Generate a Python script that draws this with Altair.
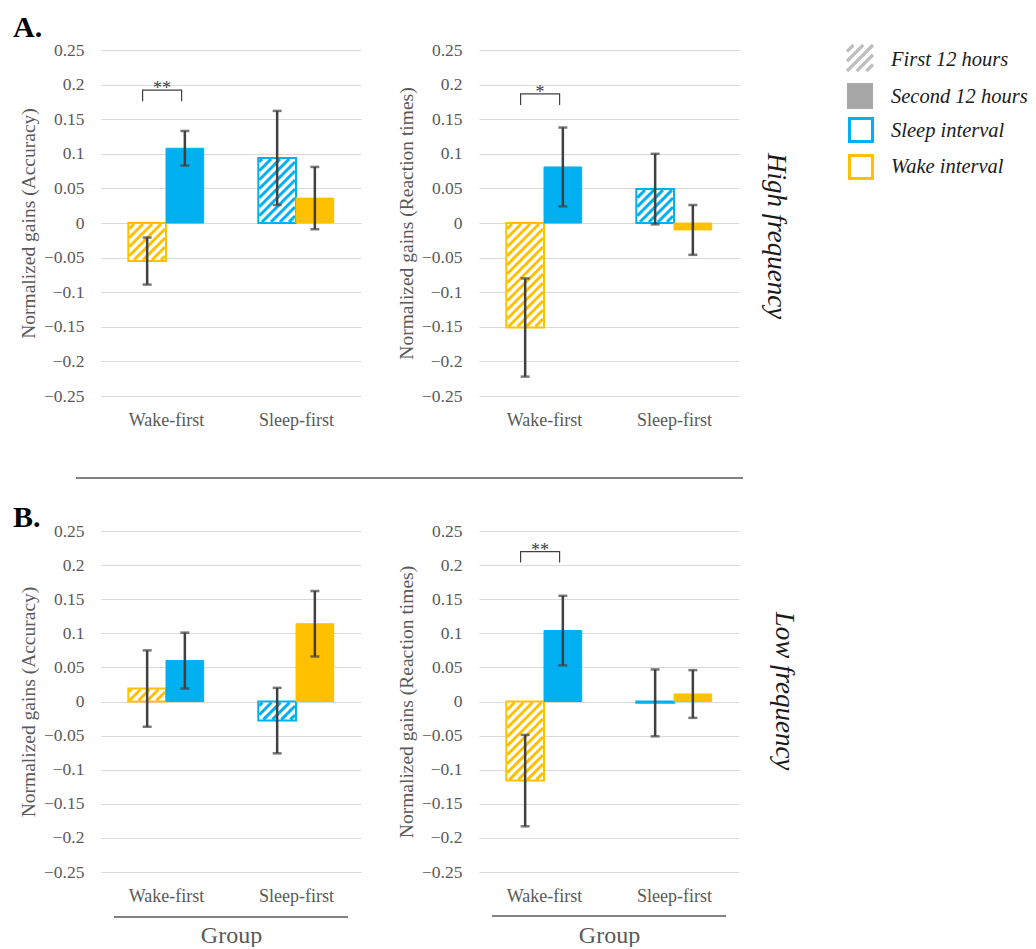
import math
import altair as alt
import numpy as np
import pandas as pd

# ---------------- data ----------------
groups = ["Wake-first", "Sleep-first"]
periods = ["First 12 hours", "Second 12 hours"]
first_interval = ["Wake", "Sleep"]    # interval type of the first 12 hours per group
second_interval = ["Sleep", "Wake"]   # interval type of the second 12 hours per group
intervals = ["Sleep", "Wake"]
interval_colors = ["#00B0F0", "#FFC000"]

# A. High frequency – Accuracy
hf_acc_first = [-0.055, 0.094]
hf_acc_first_err = [0.034, 0.068]
hf_acc_second = [0.108, 0.036]
hf_acc_second_err = [0.025, 0.045]
# A. High frequency – Reaction times
hf_rt_first = [-0.151, 0.049]
hf_rt_first_err = [0.071, 0.051]
hf_rt_second = [0.081, -0.010]
hf_rt_second_err = [0.057, 0.036]
# B. Low frequency – Accuracy
lf_acc_first = [0.019, -0.028]
lf_acc_first_err = [0.056, 0.048]
lf_acc_second = [0.060, 0.114]
lf_acc_second_err = [0.041, 0.048]
# B. Low frequency – Reaction times
lf_rt_first = [-0.116, -0.002]
lf_rt_first_err = [0.067, 0.049]
lf_rt_second = [0.104, 0.011]
lf_rt_second_err = [0.051, 0.035]

# significance markers: (group, label, bracket height)
hf_acc_sig = ("Wake-first", "**", 0.192)
hf_rt_sig = ("Wake-first", "*", 0.1865)
lf_rt_sig = ("Wake-first", "**", 0.2197)

y_ticks = [-0.25, -0.2, -0.15, -0.1, -0.05, 0, 0.05, 0.1, 0.15, 0.2, 0.25]
legend_labels = ["First 12 hours", "Second 12 hours", "Sleep interval", "Wake interval"]

# ---------------- layout / style ----------------
W = 260
H_TOP = 346
H_BOT = 341
XDOM = [-0.5, 1.5]
YDOM = [-0.25, 0.25]
BAR_W = 0.29
HATCH_STEP = 9.0
FONT = "Liberation Serif"
GRAY = "#595959"
ERR = "#404040"

XS = alt.Scale(domain=XDOM, nice=False, zero=False)
YS = alt.Scale(domain=YDOM, nice=False, zero=False)
COLOR_SCALE = alt.Scale(domain=intervals, range=interval_colors)

label_expr_y = "(datum.value < 0 ? '\u2212' : '') + format(abs(datum.value), '~g')"
label_expr_x = "[" + ",".join("'" + g + "'" for g in groups) + "][datum.value]"


def make_axes(H, ytitle, xtitle):
    yaxis = alt.Axis(values=y_ticks, labelExpr=label_expr_y, grid=True, gridColor="#D9D9D9",
                     gridWidth=1, domain=False, ticks=False, tickSize=0, labelPadding=17,
                     labelFont=FONT, labelFontSize=17.5, labelColor=GRAY,
                     title=ytitle, titleFont=FONT, titleFontSize=19.5, titleFontWeight="normal",
                     titleColor=GRAY, titleX=-73, titleY=H / 2, titleAngle=270,
                     titleAlign="center", titleBaseline="middle")
    xkw = dict(values=[0, 1], labelExpr=label_expr_x, grid=False, domain=False, ticks=False,
               tickSize=0, labelPadding=15, labelFont=FONT, labelFontSize=18, labelColor=GRAY)
    if xtitle:
        xaxis = alt.Axis(title=xtitle, titleFont=FONT, titleFontSize=24, titleFontWeight="normal",
                         titleColor=GRAY, titleX=W / 2, titleY=63, titleAlign="center",
                         titleBaseline="middle", **xkw)
    else:
        xaxis = alt.Axis(title=None, **xkw)
    return xaxis, yaxis


def panel_frame(first, first_err, second, second_err):
    rows = []
    for gi, g in enumerate(groups):
        rows.append(dict(group=g, gi=gi, period=periods[0], interval=first_interval[gi],
                         value=first[gi], err=first_err[gi]))
        rows.append(dict(group=g, gi=gi, period=periods[1], interval=second_interval[gi],
                         value=second[gi], err=second_err[gi]))
    df = pd.DataFrame(rows)
    df["x0"] = df["gi"] + np.where(df["period"] == periods[0], -BAR_W, 0.0)
    df["x1"] = df["x0"] + BAR_W
    df["xc"] = (df["x0"] + df["x1"]) / 2
    df["lo"] = df["value"] - df["err"]
    df["hi"] = df["value"] + df["err"]
    df["base"] = 0.0
    return df


def hatch_frame(df, H):
    """Diagonal hatch segments (in data units) filling the hatched bars."""
    kx = W / (XDOM[1] - XDOM[0])
    ky = H / (YDOM[1] - YDOM[0])
    rows = []
    for r in df.itertuples():
        X0 = (r.x0 - XDOM[0]) * kx + 1
        X1 = (r.x1 - XDOM[0]) * kx - 1
        Yt = (YDOM[1] - max(r.value, 0)) * ky + 1
        Yb = (YDOM[1] - min(r.value, 0)) * ky - 1
        if Yb <= Yt:
            continue
        c = math.ceil((X0 + Yt) / HATCH_STEP) * HATCH_STEP
        while c < X1 + Yb:
            pa = max(X0, c - Yb)
            pb = min(X1, c - Yt)
            if pb > pa:
                rows.append(dict(interval=r.interval,
                                 hx0=XDOM[0] + pa / kx, hx1=XDOM[0] + pb / kx,
                                 hy0=YDOM[1] - (c - pa) / ky, hy1=YDOM[1] - (c - pb) / ky))
            c += HATCH_STEP
    return pd.DataFrame(rows, columns=["interval", "hx0", "hx1", "hy0", "hy1"])


def make_panel(first, first_err, second, second_err, H, ytitle, xtitle=None, sig=None, extras=()):
    xaxis, yaxis = make_axes(H, ytitle, xtitle)
    df = panel_frame(first, first_err, second, second_err)
    df_first = df[df["period"] == periods[0]]
    df_second = df[df["period"] == periods[1]]
    hatch = hatch_frame(df_first, H)

    def X(f):
        return alt.X(f, type="quantitative", scale=XS, axis=xaxis)

    def Y(f):
        return alt.Y(f, type="quantitative", scale=YS, axis=yaxis)

    color = alt.Color("interval:N", scale=COLOR_SCALE, legend=None)
    stroke = alt.Stroke("interval:N", scale=COLOR_SCALE, legend=None)

    bg = alt.Chart(df_first).mark_rect(fill="white").encode(
        x=X("x0"), x2="x1", y=Y("value"), y2="base")
    hatch_l = alt.Chart(hatch).mark_rule(strokeWidth=3, strokeCap="butt").encode(
        x=X("hx0"), x2="hx1", y=Y("hy0"), y2="hy1", stroke=stroke)
    outline = alt.Chart(df_first).mark_rect(fillOpacity=0, strokeWidth=2).encode(
        x=X("x0"), x2="x1", y=Y("value"), y2="base", stroke=stroke)
    solid = alt.Chart(df_second).mark_rect(strokeWidth=1).encode(
        x=X("x0"), x2="x1", y=Y("value"), y2="base", fill=color, stroke=stroke)
    err = alt.Chart(df).mark_rule(color=ERR, strokeWidth=2.5).encode(
        x=X("xc"), y=Y("lo"), y2="hi")
    cap_lo = alt.Chart(df).mark_tick(color=ERR, orient="horizontal", size=9, thickness=2.5).encode(
        x=X("xc"), y=Y("lo"))
    cap_hi = alt.Chart(df).mark_tick(color=ERR, orient="horizontal", size=9, thickness=2.5).encode(
        x=X("xc"), y=Y("hi"))
    layers = [bg, hatch_l, outline, solid, err, cap_lo, cap_hi]

    if sig is not None:
        g, lab, top = sig
        gi = groups.index(g)
        br = pd.DataFrame(dict(bx=[gi - 0.18, gi - 0.18, gi + 0.12, gi + 0.12],
                               by=[top - 0.016, top, top, top - 0.016], o=[0, 1, 2, 3]))
        bracket = alt.Chart(br).mark_line(color=ERR, strokeWidth=1.2).encode(
            x=X("bx"), y=Y("by"), order="o:Q")
        st = pd.DataFrame(dict(tx=[gi - 0.03], ty=[top], t=[lab]))
        stext = alt.Chart(st).mark_text(font=FONT, fontSize=18, color=ERR, baseline="alphabetic",
                                        dy=4).encode(x=X("tx"), y=Y("ty"), text="t:N")
        layers += [bracket, stext]
    layers += list(extras)
    return alt.layer(*layers).properties(width=W, height=H)


def label(text, x, y, size, italic=False, bold=False, angle=0, align="left", baseline="alphabetic",
          color="#1A1A1A"):
    return alt.Chart(pd.DataFrame({"t": [text]})).mark_text(
        font=FONT, fontSize=size, fontStyle="italic" if italic else "normal",
        fontWeight="bold" if bold else "normal", angle=angle, align=align, baseline=baseline,
        color=color).encode(x=alt.value(x), y=alt.value(y), text="t:N")


def hline(x1, x2, y, width=1.3):
    return alt.Chart(pd.DataFrame({"a": [0]})).mark_rule(color=GRAY, strokeWidth=width).encode(
        x=alt.value(x1), x2=alt.value(x2), y=alt.value(y))


HATCH_PATH = ("M-1,-0.5L-0.5,-1M-1,0.25L0.25,-1M-1,1L1,-1M-0.25,1L1,-0.25M0.5,1L1,0.5")


def legend_layers():
    one = pd.DataFrame({"a": [0]})
    out = [
        alt.Chart(one).mark_point(shape=HATCH_PATH, size=676, filled=False, opacity=1,
                                  stroke="#BFBFBF", strokeWidth=3.2).encode(
            x=alt.value(381), y=alt.value(8)),
        alt.Chart(one).mark_point(shape="square", size=676, filled=True, opacity=1,
                                  fill="#A6A6A6", strokeWidth=0).encode(
            x=alt.value(381), y=alt.value(46)),
        alt.Chart(one).mark_point(shape="square", size=529, filled=False, opacity=1,
                                  stroke=interval_colors[0], strokeWidth=3).encode(
            x=alt.value(382), y=alt.value(80)),
        alt.Chart(one).mark_point(shape="square", size=529, filled=False, opacity=1,
                                  stroke=interval_colors[1], strokeWidth=3).encode(
            x=alt.value(382), y=alt.value(117)),
    ]
    for lab, yy in zip(legend_labels, [10, 47, 81, 117]):
        out.append(label(lab, 412, yy, 20.5, italic=True, baseline="middle"))
    return out


TL = make_panel(hf_acc_first, hf_acc_first_err, hf_acc_second, hf_acc_second_err, H_TOP,
                "Normalized gains (Accuracy)", sig=hf_acc_sig,
                extras=[label("A.", -88, -13, 30, bold=True, color="#000000"),
                        hline(-25, 642, 428)])
TR = make_panel(hf_rt_first, hf_rt_first_err, hf_rt_second, hf_rt_second_err, H_TOP,
                "Normalized gains (Reaction times)", sig=hf_rt_sig,
                extras=[label("High frequency", 297, 186, 27, italic=True, angle=90,
                              align="center", baseline="middle")] + legend_layers())
BL = make_panel(lf_acc_first, lf_acc_first_err, lf_acc_second, lf_acc_second_err, H_BOT,
                "Normalized gains (Accuracy)", xtitle="Group",
                extras=[label("B.", -88, -4, 30, bold=True, color="#000000"),
                        hline(13, 247, 386)])
BR = make_panel(lf_rt_first, lf_rt_first_err, lf_rt_second, lf_rt_second_err, H_BOT,
                "Normalized gains (Reaction times)", xtitle="Group", sig=lf_rt_sig,
                extras=[label("Low frequency", 305, 160, 27, italic=True, angle=90,
                              align="center", baseline="middle"),
                        hline(13, 247, 385)])

chart = alt.concat(
    TL, TR, BL, BR, columns=2,
    spacing={"row": 135, "column": 118}, bounds="flush",
).properties(
    padding={"left": 5, "top": 5, "right": 0, "bottom": 0},
    background="white",
).configure_view(strokeWidth=0)

chart.save("out.html", embed_options={"renderer": "svg", "actions": False})
